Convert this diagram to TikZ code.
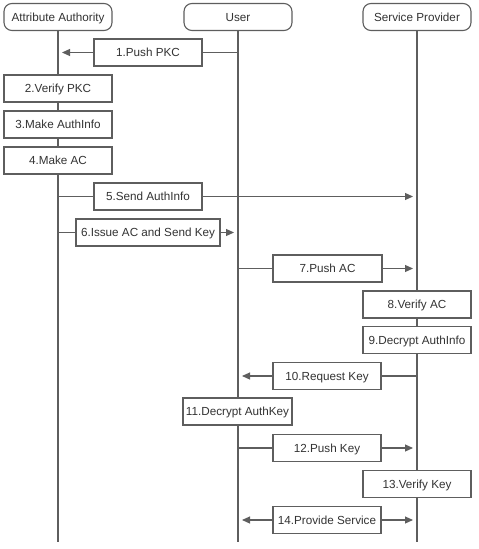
\documentclass[tikz,border=0pt]{standalone}
\usepackage{fontspec}
\setmainfont{Liberation Sans}
\usetikzlibrary{arrows.meta}
\definecolor{ln}{HTML}{5E5E5E}
\definecolor{tx}{HTML}{333333}
\tikzset{
  hdr/.style={draw=ln, line width=1.1pt, rounded corners=8pt, fill=white, minimum width=108pt, minimum height=27pt, inner sep=0pt, text=tx, text height=8.4pt, text depth=0pt, font=\fontsize{11.7}{13}\selectfont},
  msgbox/.style={draw=ln, line width=1.1pt, fill=white, minimum width=108pt, minimum height=27pt, inner sep=0pt, text=tx, text height=8.4pt, text depth=0pt, font=\fontsize{11.7}{13}\selectfont},
  life/.style={draw=ln, line width=1.1pt},
  conn/.style={draw=ln, line width=1.1pt},
  arr/.style={draw=ln, line width=1.1pt, -{Triangle[length=8pt,width=7pt]}},
}
\begin{document}
\begin{tikzpicture}[x=1pt,y=-1pt]
\useasboundingbox (0,0) rectangle (479,549);
% headers
\node[hdr] (aa) at (58,17) {Attribute Authority};
\node[hdr] (us) at (238,17) {User};
\node[hdr] (sp) at (417,17) {Service Provider};
% lifeline ends
\coordinate (aaend) at (58,542);
\coordinate (usend) at (238,542);
\coordinate (spend) at (417,542);
\draw[life] (aa.south) -- (aaend);
\draw[life] (us.south) -- (usend);
\draw[life] (sp.south) -- (spend);
% message endpoints
\coordinate (m1s) at (238,52.5);  \coordinate (m1e) at (62,52.5);
\coordinate (m5s) at (58,196.5);  \coordinate (m5e) at (413,196.5);
\coordinate (m6s) at (58,232.5);  \coordinate (m6e) at (234,232.5);
\coordinate (m7s) at (238,268.5); \coordinate (m7e) at (413,268.5);
\coordinate (m10s) at (417,376);  \coordinate (m10e) at (242,376);
\coordinate (m12s) at (238,448);  \coordinate (m12e) at (413,448);
\coordinate (m14a) at (242,520);  \coordinate (m14b) at (413,520);
% boxes
\node[msgbox] (b1) at (148,52.5) {1.Push PKC};
\node[msgbox] (b2) at (58,88.5) {2.Verify PKC};
\node[msgbox] (b3) at (58,124.5) {3.Make AuthInfo};
\node[msgbox] (b4) at (58,160.5) {4.Make AC};
\node[msgbox] (b5) at (148,196.5) {5.Send AuthInfo};
\node[msgbox, minimum width=144pt] (b6) at (148,232.5) {6.Issue AC and Send Key};
\node[msgbox, minimum width=109pt] (b7) at (327.5,268.5) {7.Push AC};
\node[msgbox] (b8) at (417,304.5) {8.Verify AC};
\node[msgbox] (b9) at (417,340) {9.Decrypt AuthInfo};
\node[msgbox] (b10) at (327,376) {10.Request Key};
\node[msgbox, minimum width=109pt] (b11) at (237.5,411.5) {11.Decrypt AuthKey};
\node[msgbox] (b12) at (327,448) {12.Push Key};
\node[msgbox] (b13) at (417,484) {13.Verify Key};
\node[msgbox] (b14) at (327,520) {14.Provide Service};
% connectors
\draw[conn] (m1s) -- (b1.east);
\draw[arr] (b1.west) -- (m1e);
\draw[conn] (m5s) -- (b5.west);
\draw[arr] (b5.east) -- (m5e);
\draw[conn] (m6s) -- (b6.west);
\draw[arr] (b6.east) -- (m6e);
\draw[conn] (m7s) -- (b7.west);
\draw[arr] (b7.east) -- (m7e);
\draw[conn] (m10s) -- (b10.east);
\draw[arr] (b10.west) -- (m10e);
\draw[conn] (m12s) -- (b12.west);
\draw[arr] (b12.east) -- (m12e);
\draw[arr] (b14.west) -- (m14a);
\draw[arr] (b14.east) -- (m14b);
\end{tikzpicture}
\end{document}
